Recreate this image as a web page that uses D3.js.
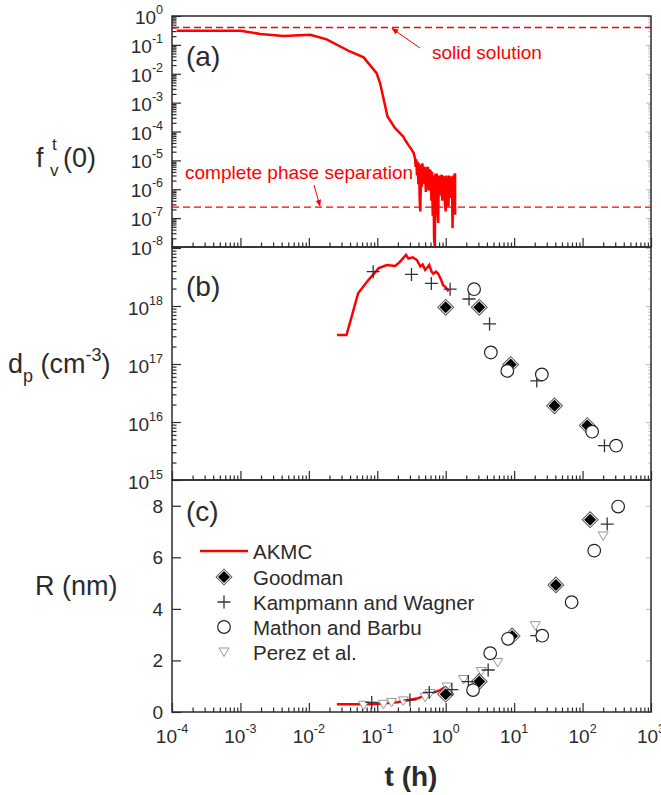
<!DOCTYPE html>
<html>
<head>
<meta charset="utf-8">
<script src="https://cdn.jsdelivr.net/npm/d3@7"></script>
<style>
  body { margin: 0; background: #fff; }
  svg { display: block; font-family: 'Liberation Sans', Arial, sans-serif; }
</style>
</head>
<body>
<div id="chart"></div>
<script>
"use strict";

// ---- data ----
// panel (a): f_v^t(0) from AKMC
var fvTime = [1.17e-4, 1e-3, 1.95e-3, 4.27e-3, 1.05e-2, 1.82e-2, 3.98e-2, 6.31e-2, 9.77e-2, 0.11, 0.141, 0.182, 0.24, 0.255,
  0.282, 0.316, 0.340, 0.348, 0.356, 0.364, 0.372, 0.380, 0.389, 0.398, 0.407, 0.417, 0.426, 0.436, 0.446, 0.457, 0.467,
  0.478, 0.489, 0.501, 0.512, 0.524, 0.537, 0.549, 0.562, 0.575, 0.589, 0.602, 0.617, 0.631, 0.646, 0.661, 0.676, 0.692,
  0.708, 0.724, 0.741, 0.759, 0.776, 0.794, 0.813, 0.832, 0.851, 0.871, 0.891, 0.912, 0.933, 0.955, 0.977, 1.0, 1.023,
  1.047, 1.072, 1.096, 1.122, 1.148, 1.175, 1.202, 1.230, 1.259, 1.288, 1.318, 1.349, 1.37, 1.37];
var fvValue = [0.31, 0.31, 0.24, 0.204, 0.224, 0.155, 0.059, 0.037, 0.0105, 4.7e-3, 3.3e-4, 1.3e-4, 6.6e-5, 5.1e-5,
  3.5e-5, 2.4e-5, 1.8e-5, 1.4e-5, 1.2e-5, 6e-6, 1.1e-5, 3e-6, 9e-6, 1.5e-6, 8e-6, 4e-7, 1.7e-7, 7e-6, 1.2e-6, 8e-6, 2e-6,
  6e-6, 1.5e-6, 6e-6, 8e-7, 5e-6, 1.3e-6, 6e-6, 9e-7, 5e-6, 1e-6, 4.5e-6, 4e-7, 4e-6, 1.2e-7, 3e-6, 2e-8, 1.05e-8,
  3.5e-6, 5e-7, 3.5e-6, 1.5e-7, 6.8e-8, 3e-6, 8e-7, 3e-6, 6e-7, 3.2e-6, 4e-7, 3e-6, 8e-7, 2.8e-6, 3e-7, 1.7e-7, 3e-6,
  6e-7, 2.5e-6, 2.5e-7, 3e-6, 5e-7, 2.8e-6, 6e-7, 2.5e-6, 4.5e-8, 3e-6, 1.6e-7, 3.2e-6, 3.5e-6, 1.3e-7];
var solidSolution = 0.4;
var phaseSeparation = 2.4e-7;

// panel (b): precipitate density d_p (cm^-3)
var dpAkmcTime = [0.0257, 0.0355, 0.0525, 0.0741, 0.105, 0.138, 0.182, 0.214, 0.263, 0.285, 0.33, 0.38, 0.427, 0.46, 0.50,
  0.54, 0.575, 0.62, 0.66, 0.72, 0.776, 0.85, 0.912, 1.0, 1.10];
var dpAkmcValue = [3.16e17, 3.16e17, 1.66e18, 2.8e18, 4.5e18, 5.1e18, 4.9e18, 5.75e18, 7.6e18, 6.6e18, 6.9e18, 6.2e18, 4.8e18, 5.2e18, 4.2e18,
  4.6e18, 5.1e18, 3.9e18, 3.6e18, 3.9e18, 3.6e18, 2.9e18, 2.3e18, 2.1e18, 1.8e18];
var dpGoodmanTime = [1.0, 3.09, 8.9, 38.9, 117];
var dpGoodmanValue = [9.5e17, 9.5e17, 9.8e16, 1.9e16, 8.7e15];
var dpKampTime = [0.087, 0.316, 0.617, 1.16, 2.19, 4.37, 21.4, 209];
var dpKampValue = [3.9e18, 3.5e18, 2.45e18, 1.95e18, 1.32e18, 4.9e17, 5.1e16, 3.9e15];
var dpMathonTime = [2.6, 4.57, 7.94, 25.4, 138, 309];
var dpMathonValue = [1.95e18, 1.58e17, 7.6e16, 6.6e16, 6.8e15, 3.9e15];

// panel (c): mean radius R (nm)
var rAkmcTime = [0.0257, 0.087, 0.195, 0.38, 0.589, 0.832, 1.0, 1.10];
var rAkmcValue = [0.30, 0.30, 0.38, 0.52, 0.71, 0.85, 0.98, 1.05];
var rGoodmanTime = [1.0, 3.09, 9.33, 40.7, 129];
var rGoodmanValue = [0.69, 1.18, 2.95, 4.93, 7.46];
var rKampTime = [0.083, 0.30, 0.575, 1.23, 2.14, 4.17, 21.4, 229];
var rKampValue = [0.37, 0.47, 0.76, 0.87, 1.18, 1.63, 2.96, 7.29];
var rMathonTime = [2.51, 4.47, 8.13, 25.7, 69.2, 148, 331];
var rMathonValue = [0.85, 2.28, 2.84, 2.96, 4.26, 6.26, 7.97];
var rPerezTime = [0.063, 0.123, 0.162, 0.24, 0.50, 0.589, 1.05, 1.82, 3.31, 5.75, 20.4, 200];
var rPerezValue = [0.26, 0.30, 0.37, 0.43, 0.57, 0.72, 0.97, 1.26, 1.57, 1.92, 3.35, 6.83];

// ticks
var xTickExp = [-4, -3, -2, -1, 0, 1, 2, 3];
var yaTickExp = [0, -1, -2, -3, -4, -5, -6, -7, -8];
var ybTickExp = [15, 16, 17, 18];
var ybMajorExp = [15, 16, 17, 18, 19];
var ycTicks = [0, 2, 4, 6, 8];
var legendNames = ['AKMC', 'Goodman', 'Kampmann and Wagner', 'Mathon and Barbu', 'Perez et al.'];

// ---- scales ----
var L = 172, R = 651;
var x = d3.scaleLog().domain([1e-4, 1e3]).range([L, R]);
var ya = d3.scaleLog().domain([1e-8, 1]).range([247, 16]);
var yb = d3.scaleLog().domain([1e15, 1e19]).range([480, 248]);
var yc = d3.scaleLinear().domain([0, 9]).range([712, 480]);

var red = '#ff0000';
var ink = '#2b2b2b';

var svg = d3.select('#chart').append('svg').attr('width', 661).attr('height', 795);

function pow10(e) { return Math.pow(10, e); }
function isMinor(v) { var l = Math.log10(v); return Math.abs(l - Math.round(l)) > 1e-6; }

function styleTicks(g, color, w) {
  g.select('.domain').remove();
  g.selectAll('.tick line').attr('stroke', color).attr('stroke-width', w);
  g.selectAll('.tick text').remove();
}

// x ticks along the bottom of each panel (inside)
function xTicks(yPos) {
  svg.append('g').attr('transform', 'translate(0,' + yPos + ')')
    .call(d3.axisBottom(x).tickValues(xTickExp.map(pow10)).tickSize(-9))
    .call(styleTicks, ink, 1.2);
  svg.append('g').attr('transform', 'translate(0,' + yPos + ')')
    .call(d3.axisBottom(x).tickValues(x.ticks().filter(isMinor)).tickSize(-4.5))
    .call(styleTicks, ink, 1.2);
}

function yLogTicks(scale, majors) {
  svg.append('g').attr('transform', 'translate(' + L + ',0)')
    .call(d3.axisLeft(scale).tickValues(majors).tickSize(-9))
    .call(styleTicks, ink, 1.2);
  svg.append('g').attr('transform', 'translate(' + L + ',0)')
    .call(d3.axisLeft(scale).tickValues(scale.ticks().filter(isMinor)).tickSize(-4.5))
    .call(styleTicks, ink, 1.2);
  svg.append('g').attr('transform', 'translate(' + R + ',0)')
    .call(d3.axisRight(scale).tickValues(majors).tickSize(-5))
    .call(styleTicks, '#aaa', 0.8);
  svg.append('g').attr('transform', 'translate(' + R + ',0)')
    .call(d3.axisRight(scale).tickValues(scale.ticks().filter(isMinor)).tickSize(-3))
    .call(styleTicks, '#bbb', 0.8);
}

function powLabel(sel, exp) {
  sel.append('tspan').text('10');
  sel.append('tspan').attr('dy', -10).attr('font-size', 12.5).text(exp);
}

xTicks(247); xTicks(480); xTicks(712);
yLogTicks(ya, yaTickExp.map(pow10));
yLogTicks(yb, ybMajorExp.map(pow10));
svg.append('g').attr('transform', 'translate(' + L + ',0)')
  .call(d3.axisLeft(yc).tickValues(ycTicks).tickSize(-9))
  .call(styleTicks, ink, 1.2);
svg.append('g').attr('transform', 'translate(' + R + ',0)')
  .call(d3.axisRight(yc).tickValues(ycTicks).tickSize(-5))
  .call(styleTicks, '#aaa', 0.8);

// tick labels
svg.append('g').selectAll('text').data(xTickExp).enter().append('text')
  .attr('x', function (d) { return x(pow10(d)); }).attr('y', 743)
  .attr('text-anchor', 'middle').attr('font-size', 19).attr('fill', ink)
  .each(function (d) { powLabel(d3.select(this), String(d)); });
svg.append('g').selectAll('text').data(yaTickExp).enter().append('text')
  .attr('x', 163).attr('y', function (d) { return ya(pow10(d)) + 8; })
  .attr('text-anchor', 'end').attr('font-size', 19).attr('fill', ink)
  .each(function (d) { powLabel(d3.select(this), String(d)); });
svg.append('g').selectAll('text').data(ybTickExp).enter().append('text')
  .attr('x', 163).attr('y', function (d) { return yb(pow10(d)) + 9; })
  .attr('text-anchor', 'end').attr('font-size', 19).attr('fill', ink)
  .each(function (d) { powLabel(d3.select(this), String(d)); });
svg.append('g').selectAll('text').data(ycTicks).enter().append('text')
  .attr('x', 163).attr('y', function (d) { return yc(d) + 7; })
  .attr('text-anchor', 'end').attr('font-size', 19).attr('fill', ink)
  .text(function (d) { return d; });

// frames
[[16, 247], [247, 480], [480, 712]].forEach(function (p) {
  svg.append('rect').attr('x', L).attr('y', p[0]).attr('width', R - L).attr('height', p[1] - p[0])
    .attr('fill', 'none').attr('stroke', ink).attr('stroke-width', 1.5);
});

// ---- panel (a) ----
var arrowDefs = svg.append('defs');
arrowDefs.append('marker').attr('id', 'arr').attr('viewBox', '0 0 10 10').attr('refX', 9).attr('refY', 5)
  .attr('markerWidth', 7).attr('markerHeight', 7).attr('orient', 'auto-start-reverse')
  .append('path').attr('d', 'M0,1L10,5L0,9Z').attr('fill', red);

[solidSolution, phaseSeparation].forEach(function (v) {
  svg.append('line').attr('x1', L).attr('x2', R).attr('y1', ya(v)).attr('y2', ya(v))
    .attr('stroke', red).attr('stroke-width', 1.3).attr('stroke-dasharray', '7,4');
});
svg.append('line').attr('x1', 420).attr('y1', 48).attr('x2', 392).attr('y2', ya(solidSolution) + 1)
  .attr('stroke', red).attr('stroke-width', 1).attr('marker-end', 'url(#arr)');
svg.append('text').attr('x', 432).attr('y', 59).attr('font-size', 19).attr('fill', red).text('solid solution');
svg.append('line').attr('x1', 314).attr('y1', 185).attr('x2', 320).attr('y2', ya(phaseSeparation) - 1)
  .attr('stroke', red).attr('stroke-width', 1).attr('marker-end', 'url(#arr)');
svg.append('text').attr('x', 185).attr('y', 179).attr('font-size', 19).attr('fill', red).text('complete phase separation');

var lineA = d3.line().x(function (d) { return x(d[0]); }).y(function (d) { return ya(d[1]); });
svg.append('path').datum(d3.zip(fvTime, fvValue)).attr('d', lineA)
  .attr('fill', 'none').attr('stroke', red).attr('stroke-width', 2.5).attr('stroke-linejoin', 'miter');

// ---- markers ----
function drawGoodman(g, cx, cy) {
  g.append('path').attr('d', d3.symbol().type(d3.symbolSquare).size(125)())
    .attr('transform', 'translate(' + cx + ',' + cy + ') rotate(45)')
    .attr('fill', '#fff').attr('stroke', '#555').attr('stroke-width', 1);
  g.append('path').attr('d', d3.symbol().type(d3.symbolSquare).size(72)())
    .attr('transform', 'translate(' + cx + ',' + cy + ') rotate(45)')
    .attr('fill', '#000');
}
function drawKamp(g, cx, cy) {
  g.append('path').attr('d', 'M-6.5,0H6.5M0,-6.5V6.5')
    .attr('transform', 'translate(' + cx + ',' + cy + ')')
    .attr('stroke', '#333').attr('stroke-width', 1.3).attr('fill', 'none');
}
function drawMathon(g, cx, cy) {
  g.append('circle').attr('cx', cx).attr('cy', cy).attr('r', 6.3)
    .attr('fill', '#fff').attr('stroke', '#222').attr('stroke-width', 1.2);
}
function drawPerez(g, cx, cy) {
  g.append('path').attr('d', 'M-5,-4L5,-4L0,4.5Z')
    .attr('transform', 'translate(' + cx + ',' + cy + ')')
    .attr('fill', '#fff').attr('stroke', '#999').attr('stroke-width', 1);
}
function series(ys, times, values, draw) {
  var g = svg.append('g');
  times.forEach(function (t, i) { draw(g, x(t), ys(values[i])); });
}

// ---- panel (b) ----
var lineB = d3.line().x(function (d) { return x(d[0]); }).y(function (d) { return yb(d[1]); });
svg.append('path').datum(d3.zip(dpAkmcTime, dpAkmcValue)).attr('d', lineB)
  .attr('fill', 'none').attr('stroke', red).attr('stroke-width', 2.5);
series(yb, dpGoodmanTime, dpGoodmanValue, drawGoodman);
series(yb, dpKampTime, dpKampValue, drawKamp);
series(yb, dpMathonTime, dpMathonValue, drawMathon);

// ---- panel (c) ----
var lineC = d3.line().x(function (d) { return x(d[0]); }).y(function (d) { return yc(d[1]); });
svg.append('path').datum(d3.zip(rAkmcTime, rAkmcValue)).attr('d', lineC)
  .attr('fill', 'none').attr('stroke', red).attr('stroke-width', 2.5);
series(yc, rPerezTime, rPerezValue, drawPerez);
series(yc, rGoodmanTime, rGoodmanValue, drawGoodman);
series(yc, rKampTime, rKampValue, drawKamp);
series(yc, rMathonTime, rMathonValue, drawMathon);

// legend
var leg = svg.append('g');
var legY = [551, 577, 602, 627, 652];
leg.append('line').attr('x1', 200).attr('x2', 248).attr('y1', legY[0]).attr('y2', legY[0])
  .attr('stroke', red).attr('stroke-width', 2.5);
drawGoodman(leg, 224, legY[1]);
drawKamp(leg, 224, legY[2]);
drawMathon(leg, 224, legY[3]);
drawPerez(leg, 224, legY[4]);
leg.selectAll('text').data(legendNames).enter().append('text')
  .attr('x', 253).attr('y', function (d, i) { return legY[i] + 7.5; })
  .attr('font-size', 20.5).attr('fill', ink).text(function (d) { return d; });

// panel letters
[['(a)', 66], ['(b)', 296], ['(c)', 521]].forEach(function (p) {
  svg.append('text').attr('x', 186).attr('y', p[1]).attr('font-size', 28).attr('fill', ink).text(p[0]);
});

// axis titles
var ta = svg.append('g').attr('fill', ink);
ta.append('text').attr('x', 36).attr('y', 167).attr('font-size', 27).text('f');
ta.append('text').attr('x', 52).attr('y', 150).attr('font-size', 17).text('t');
ta.append('text').attr('x', 50).attr('y', 176).attr('font-size', 17).text('v');
ta.append('text').attr('x', 63).attr('y', 167).attr('font-size', 27).text('(0)');

var tb = svg.append('text').attr('x', 8).attr('y', 373).attr('font-size', 27).attr('fill', ink);
tb.append('tspan').text('d');
tb.append('tspan').attr('font-size', 18).attr('dy', 9).text('p');
tb.append('tspan').attr('dy', -9).text(' (cm');
tb.append('tspan').attr('font-size', 18).attr('dy', -12).text('-3');
tb.append('tspan').attr('dy', 12).text(')');

svg.append('text').attr('x', 35).attr('y', 595).attr('font-size', 27).attr('fill', ink).text('R (nm)');

svg.append('text').attr('x', 411).attr('y', 786).attr('text-anchor', 'middle')
  .attr('font-size', 28).attr('font-weight', 'bold').attr('fill', ink).text('t (h)');
</script>
</body>
</html>
